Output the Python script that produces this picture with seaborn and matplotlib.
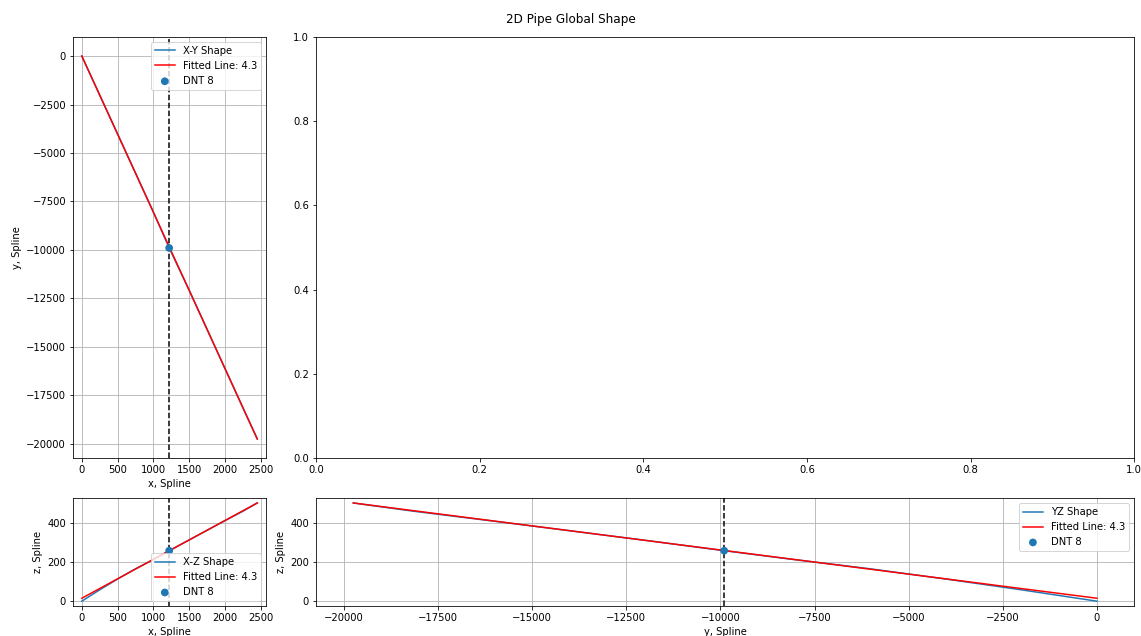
import matplotlib.pyplot as plt
from matplotlib.ticker import MultipleLocator
import seaborn as sns

# pipe shape along spline
shape_x = [0, 250, 500, 750, 1000, 1220, 1500, 1750, 2000, 2250, 2450]
shape_y = [0, -2010, -4020, -6030, -8050, -9900, -12080, -14100, -16130, -18150, -19750]
shape_z = [0, 58, 113, 165, 212, 257, 312, 361, 410, 458, 500]

# fitted straight line end points
fit_x = [0, 2450]
fit_y = [0, -19750]
fit_z = [15, 500]
fit_label = 'Fitted Line: 4.3'

# DNT location
dnt_x = [1220]
dnt_y = [-9900]
dnt_z = [257]
dnt_label = 'DNT 8'

DPI = 72
fig = plt.figure(figsize=(1141 / DPI, 636 / DPI), dpi=DPI)
gs = fig.add_gridspec(2, 2, width_ratios=[193, 818], height_ratios=[421, 108],
                      left=0.064, right=0.994, top=0.942, bottom=0.047,
                      wspace=0.099, hspace=0.151)
ax_xy = fig.add_subplot(gs[0, 0])
ax_3d = fig.add_subplot(gs[0, 1])
ax_xz = fig.add_subplot(gs[1, 0])
ax_yz = fig.add_subplot(gs[1, 1])


def draw(ax, sx, sy, fx, fy, px, py, shape_label, loc):
    sns.lineplot(x=sx, y=sy, ax=ax, color='tab:blue', label=shape_label,
                 sort=False, estimator=None)
    sns.lineplot(x=fx, y=fy, ax=ax, color='red', label=fit_label,
                 sort=False, estimator=None)
    sns.scatterplot(x=px, y=py, ax=ax, color='tab:blue', s=60,
                    edgecolor='none', label=dnt_label, zorder=3)
    ax.axvline(px[0], color='k', linestyle='--', linewidth=1.5)
    ax.grid(True)
    ax.legend(loc=loc)


draw(ax_xy, shape_x, shape_y, fit_x, fit_y, dnt_x, dnt_y, 'X-Y Shape', 'upper right')
ax_xy.set_xlabel('x, Spline')
ax_xy.set_ylabel('y, Spline')
ax_xy.xaxis.set_major_locator(MultipleLocator(500))

draw(ax_xz, shape_x, shape_z, fit_x, fit_z, dnt_x, dnt_z, 'X-Z Shape', 'lower right')
ax_xz.set_xlabel('x, Spline')
ax_xz.set_ylabel('z, Spline')
ax_xz.xaxis.set_major_locator(MultipleLocator(500))

draw(ax_yz, shape_y, shape_z, fit_y, fit_z, dnt_y, dnt_z, 'YZ Shape', 'upper right')
ax_yz.set_xlabel('y, Spline')
ax_yz.set_ylabel('z, Spline')

fig.suptitle('2D Pipe Global Shape')
fig.savefig('out.png', dpi=DPI)
